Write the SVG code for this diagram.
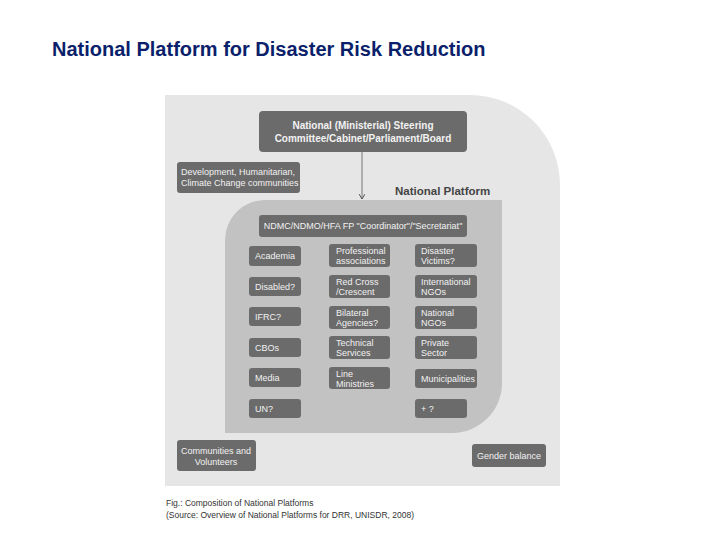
<svg xmlns="http://www.w3.org/2000/svg" width="720" height="540" viewBox="0 0 720 540">
<style>
.b{fill:#6b6b6b}
.t{font-family:"Liberation Sans",Arial,sans-serif;font-size:9px;fill:#f2f2f2}
.h{font-family:"Liberation Sans",Arial,sans-serif;font-size:10px;font-weight:bold;fill:#f2f2f2}
.c{font-family:"Liberation Sans",Arial,sans-serif;font-size:8.5px;fill:#333}
</style>
<defs><marker id="a" markerWidth="6" markerHeight="6" refX="5" refY="3" orient="auto"><path d="M0,0 L5,3 L0,6" fill="none" stroke="#555" stroke-width="1"/></marker></defs>
<rect width="720" height="540" fill="#fff"/>
<text x="52" y="56" font-family="Liberation Sans,Arial,sans-serif" font-size="20" font-weight="bold" fill="#0b1f6b">National Platform for Disaster Risk Reduction</text>
<path d="M165,95 H470 A90,90 0 0 1 560,185 V486 H165 Z" fill="#e6e6e6"/>
<path d="M265,200 H502 V383 A50,50 0 0 1 452,433 H225 V240 A40,40 0 0 1 265,200 Z" fill="#c2c2c2"/>
<g id="connectors"><line x1="362" y1="152" x2="362" y2="199" stroke="#777" stroke-width="1" marker-end="url(#a)"/></g>
<text x="395" y="195" font-family="Liberation Sans,Arial,sans-serif" font-size="11.5" font-weight="bold" fill="#444">National Platform</text>
<g id="steering"><rect class="b" x="259" y="111" width="208" height="41" rx="4"/><text class="h" x="363" y="129" text-anchor="middle">National (Ministerial) Steering</text><text class="h" x="363" y="142" text-anchor="middle">Committee/Cabinet/Parliament/Board</text></g>
<g id="dev"><rect class="b" x="177" y="162" width="123" height="31" rx="3"/><text class="t" x="181" y="175">Development, Humanitarian,</text><text class="t" x="181" y="186">Climate Change communities</text></g>
<g id="coord"><rect class="b" x="259" y="215" width="208" height="22" rx="3"/><text class="t" x="363" y="229" text-anchor="middle">NDMC/NDMO/HFA FP "Coordinator"/"Secretariat"</text></g>
<g id="academia"><rect class="b" x="249" y="246" width="52" height="20" rx="3"/><text class="t" x="255" y="259">Academia</text></g>
<g id="prof"><rect class="b" x="329" y="244" width="61" height="23" rx="3"/><text class="t" x="336" y="254">Professional</text><text class="t" x="336" y="264">associations</text></g>
<g id="victims"><rect class="b" x="415" y="244" width="62" height="23" rx="3"/><text class="t" x="421" y="254">Disaster</text><text class="t" x="421" y="264">Victims?</text></g>
<g id="disabled"><rect class="b" x="249" y="277" width="52" height="19" rx="3"/><text class="t" x="255" y="290">Disabled?</text></g>
<g id="redcross"><rect class="b" x="329" y="275" width="61" height="23" rx="3"/><text class="t" x="336" y="285">Red Cross</text><text class="t" x="336" y="295">/Crescent</text></g>
<g id="intngo"><rect class="b" x="415" y="275" width="62" height="23" rx="3"/><text class="t" x="421" y="285">International</text><text class="t" x="421" y="295">NGOs</text></g>
<g id="ifrc"><rect class="b" x="249" y="307" width="52" height="19" rx="3"/><text class="t" x="255" y="320">IFRC?</text></g>
<g id="bilateral"><rect class="b" x="329" y="306" width="61" height="23" rx="3"/><text class="t" x="336" y="316">Bilateral</text><text class="t" x="336" y="326">Agencies?</text></g>
<g id="natngo"><rect class="b" x="415" y="306" width="62" height="23" rx="3"/><text class="t" x="421" y="316">National</text><text class="t" x="421" y="326">NGOs</text></g>
<g id="cbos"><rect class="b" x="249" y="338" width="52" height="19" rx="3"/><text class="t" x="255" y="351">CBOs</text></g>
<g id="tech"><rect class="b" x="329" y="336" width="61" height="23" rx="3"/><text class="t" x="336" y="346">Technical</text><text class="t" x="336" y="356">Services</text></g>
<g id="private"><rect class="b" x="415" y="336" width="62" height="23" rx="3"/><text class="t" x="421" y="346">Private</text><text class="t" x="421" y="356">Sector</text></g>
<g id="media"><rect class="b" x="249" y="368" width="52" height="19" rx="3"/><text class="t" x="255" y="381">Media</text></g>
<g id="line"><rect class="b" x="329" y="367" width="61" height="22" rx="3"/><text class="t" x="336" y="377">Line</text><text class="t" x="336" y="387">Ministries</text></g>
<g id="muni"><rect class="b" x="415" y="369" width="62" height="19" rx="3"/><text class="t" x="421" y="382">Municipalities</text></g>
<g id="un"><rect class="b" x="249" y="399" width="52" height="19" rx="3"/><text class="t" x="255" y="412">UN?</text></g>
<g id="plus"><rect class="b" x="415" y="399" width="52" height="19" rx="3"/><text class="t" x="421" y="412">+ ?</text></g>
<g id="comm"><rect class="b" x="177" y="440" width="79" height="31" rx="3"/><text class="t" x="216" y="454" text-anchor="middle">Communities and</text><text class="t" x="216" y="465" text-anchor="middle">Volunteers</text></g>
<g id="gender"><rect class="b" x="472" y="444" width="74" height="23" rx="3"/><text class="t" x="509" y="459" text-anchor="middle">Gender balance</text></g>
<text class="c" x="166" y="506">Fig.: Composition of National Platforms</text>
<text class="c" x="166" y="518">(Source: Overview of National Platforms for DRR, UNISDR, 2008)</text>
</svg>
